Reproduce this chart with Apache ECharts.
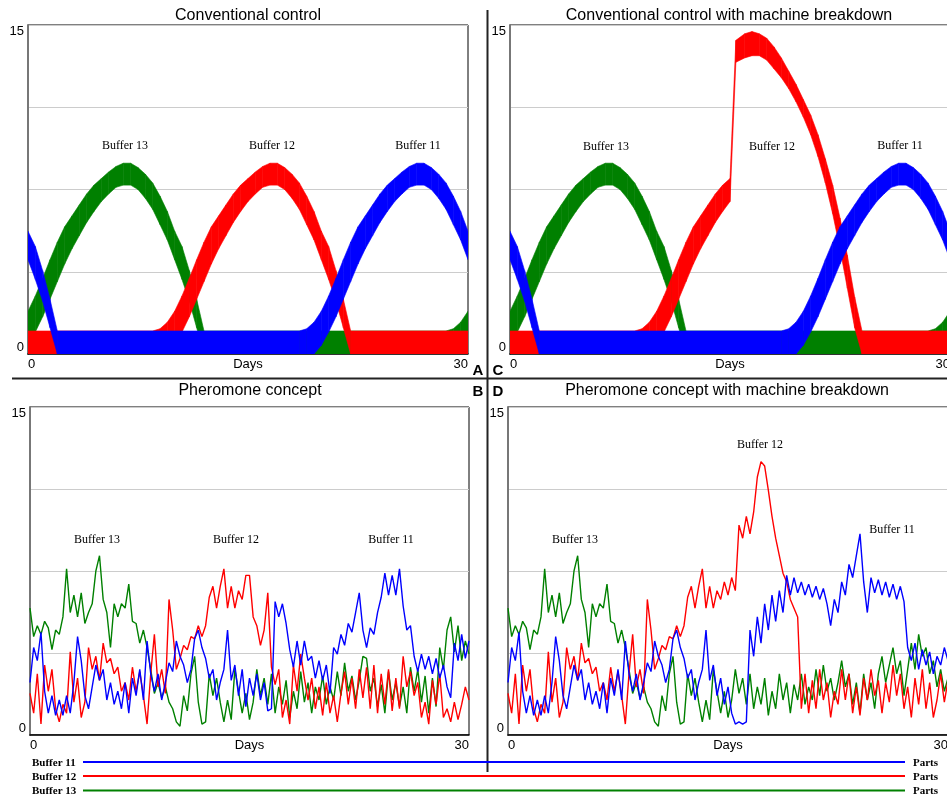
<!DOCTYPE html>
<html><head><meta charset="utf-8">
<script src="https://cdn.jsdelivr.net/npm/echarts@6/dist/echarts.min.js"></script>
<style>html,body{margin:0;padding:0;background:#fff}#c{width:947px;height:796px}</style>
</head><body><div id="c"></div>
<script>
// ---------- tick labels ----------
const xTicks = [0, 30];
const yTicks = [0, 15];

// ---------- Conventional control (A): band envelopes (upper / lower) ----------
const aGreenDays = [0,0.5,1,1.5,2,2.5,3,3.5,4,4.5,5,5.5,6,6.5,7,7.5,8,8.5,9,9.5,10,10.5,11,11.5,12,28.5,29,29.5,30];
const aGreenUp   = [1.95,2.65,3.45,4.3,5.1,5.8,6.3,6.8,7.3,7.7,8.0,8.3,8.55,8.7,8.7,8.5,8.2,7.8,7.2,6.5,5.6,4.9,3.8,2.5,1.05,1.05,1.15,1.45,1.95];
const aGreenLo   = [0.4,1.0,1.7,2.5,3.3,4.1,4.8,5.4,6.0,6.5,6.95,7.3,7.6,7.7,7.7,7.5,7.1,6.6,5.9,5.2,4.3,3.4,2.4,1.2,0,0,0,0,0.4];

const aRedDays = [0,8.5,9,9.5,10,10.5,11,11.5,12,12.5,13,13.5,14,14.5,15,15.5,16,16.5,17,17.5,18,18.5,19,19.5,20,20.5,21,21.5,22,30];
const aRedUp   = [1.05,1.05,1.15,1.45,1.95,2.65,3.45,4.3,5.1,5.8,6.3,6.8,7.3,7.7,8.0,8.3,8.55,8.7,8.7,8.5,8.2,7.8,7.2,6.5,5.6,4.9,3.8,2.5,1.05,1.05];
const aRedLo   = [0,0,0,0,0.4,1.0,1.7,2.5,3.3,4.1,4.8,5.4,6.0,6.5,6.95,7.3,7.6,7.7,7.7,7.5,7.1,6.6,5.9,5.2,4.3,3.4,2.4,1.2,0,0];

const aBlueDays = [0,0.5,1,1.5,2,18.5,19,19.5,20,20.5,21,21.5,22,22.5,23,23.5,24,24.5,25,25.5,26,26.5,27,27.5,28,28.5,29,29.5,30];
const aBlueUp   = [5.6,4.9,3.8,2.5,1.05,1.05,1.15,1.45,1.95,2.65,3.45,4.3,5.1,5.8,6.3,6.8,7.3,7.7,8.0,8.3,8.55,8.7,8.7,8.5,8.2,7.8,7.2,6.5,5.6];
const aBlueLo   = [4.3,3.4,2.4,1.2,0,0,0,0,0.4,1.0,1.7,2.5,3.3,4.1,4.8,5.4,6.0,6.5,6.95,7.3,7.6,7.7,7.7,7.5,7.1,6.6,5.9,5.2,4.3];

// ---------- Conventional control with breakdown (C): Buffer 12 ----------
const cRedDays = [0,8.5,9,9.5,10,10.5,11,11.5,12,12.5,13,13.5,14,14.5,15,15.4,16,16.5,17,17.5,18,18.5,19,19.5,20,20.5,21,21.5,22,22.5,23,23.5,24,30];
const cRedUp   = [1.05,1.05,1.15,1.45,1.95,2.65,3.45,4.3,5.1,5.8,6.3,6.8,7.3,7.7,8.0,14.3,14.6,14.7,14.6,14.4,14.0,13.5,12.9,12.3,11.6,10.9,10.0,8.9,7.7,6.2,4.5,2.6,1.05,1.05];
const cRedLo   = [0,0,0,0,0.4,1.0,1.7,2.5,3.3,4.1,4.8,5.4,6.0,6.5,6.95,13.3,13.5,13.6,13.6,13.4,13.0,12.6,12.1,11.5,10.8,10.0,9.0,7.8,6.4,4.8,3.0,1.2,0,0];

// ---------- Pheromone concept (B): samples every 0.25 day ----------
const STEP = 0.25;
const bGreen = [5.8,4.5,5.0,4.6,5.2,4.9,3.9,4.8,4.6,5.4, 7.6,5.6,6.4,5.4,6.5,5.1,5.6,6.0,7.5,8.2, 6.2,5.6,4.0,6.0,5.4,6.0,5.8,6.9,5.2,5.1, 4.2,4.8,4.0,3.0,1.9,2.4,1.7,2.2,1.5,1.2, 0.6,0.4,1.8,1.1,2.8,3.6,1.5,0.5,0.6,2.8, 1.8,2.6,1.5,0.6,1.6,0.7,3.0,2.0,
  1.0,1.9,0.7,1.5,3.0,1.8,2.6,1.4,2.8,1.0, 2.2,1.4,2.5,0.8,2.0,1.2,2.9,1.5,2.4,1.0, 2.2,1.6,2.7,1.4,2.2,1.6,2.9,1.8,3.3,2.0, 2.7,1.6,2.5,3.6,3.5,2.0,2.6,1.3,2.3,1.0, 2.9,1.6,2.4,1.3,2.2,1.0,3.1,2.0,3.0,1.5, 2.7,1.0,2.6,1.3,4.0,3.0,4.8,5.4,3.8,5.0, 3.4,4.3,3.7];
const bRed = [1.9,1.0,2.8,0.5,3.2,2.0,3.0,1.2,0.6,1.4, 1.0,3.8,1.5,2.6,0.8,1.5,4.0,3.0,3.6,2.5, 4.2,3.3,3.5,2.8,3.1,2.0,2.4,1.6,3.1,2.0, 2.9,1.8,0.5,2.8,4.6,2.2,3.0,1.9,6.2,4.8, 3.0,3.5,4.1,3.9,4.5,4.4,5.0,4.5,5.0,6.3, 6.8,5.8,6.8,7.6,5.8,6.8,5.8,6.6,
  6.2,7.3,7.3,5.4,5.0,4.1,4.8,6.5,3.1,2.3, 3.0,0.8,1.6,0.5,3.2,2.0,3.7,2.6,1.6,2.6, 1.2,2.2,0.9,2.4,1.0,1.8,0.6,1.9,2.9,1.4, 2.6,1.2,3.0,1.7,3.1,1.2,3.2,1.0,2.8,1.4, 3.0,1.1,2.6,1.2,3.6,2.2,2.9,1.8,2.4,0.8, 1.5,0.5,2.5,1.4,2.8,0.8,1.2,0.6,1.5,0.7, 1.4,2.2,1.6];
const bBlue = [2.4,4.0,3.4,4.7,2.0,1.0,1.8,0.9,1.6,0.9, 1.8,1.0,2.4,4.5,3.4,1.8,1.2,2.2,3.2,2.5, 3.0,1.6,2.4,1.4,2.0,1.2,2.4,1.0,2.6,1.8, 3.0,1.6,4.3,2.8,2.0,2.8,1.6,2.4,3.3,2.9, 4.3,3.6,3.2,2.4,3.0,4.4,4.8,4.0,3.5,2.6, 3.0,1.6,2.4,3.0,4.8,2.5,3.2,1.8,
  3.0,1.3,2.6,1.8,2.8,1.6,2.4,1.1,1.2,6.1, 5.4,6.0,5.1,3.9,3.1,4.3,3.2,4.3,3.4,3.6, 2.6,3.4,2.5,3.2,1.9,4.0,3.7,4.6,4.1,5.1, 4.7,5.6,6.5,4.8,4.0,4.9,4.6,5.6,6.3,7.4, 6.4,7.3,6.4,7.6,5.9,4.8,5.0,3.6,2.9,3.7, 3.0,3.6,2.8,3.5,2.6,3.2,2.2,1.7,4.2,3.4, 4.6,3.5,4.3];

// ---------- Pheromone with breakdown (D): identical to B until day 14, then these ----------
const dSplit = 56;
const dGreenTail = [3.0,2.0,1.0,2.0,0.8,1.6,3.0,1.9,2.6,1.4, 2.8,1.2,2.2,1.4,2.6,0.9,2.0,1.2,2.8,1.6, 2.4,1.0,2.3,1.6,2.8,1.4,2.2,1.6,3.0,1.8, 3.2,2.0,2.6,1.6,2.4,3.4,2.2,2.8,1.4,2.4, 1.0,2.8,1.6,2.4,1.2,2.8,3.6,2.4,3.2,4.0, 2.8,3.4,1.8,3.0,4.2,3.0,4.6,3.6,4.0,2.8, 3.4,2.2,3.0,2.0,2.6];
const dRedTail = [5.8,6.6,6.2,7.0,6.4,7.2,6.6,9.6,9.0,10.0, 9.2,10.2,11.8,12.5,12.3,11.2,10.0,9.0,8.2,7.4, 7.0,6.2,5.8,5.4,1.2,2.8,1.0,2.5,1.2,3.0, 1.6,2.4,0.8,2.0,1.4,3.0,1.6,2.8,1.0,2.2, 0.9,2.6,1.6,3.0,1.8,2.5,1.0,2.4,1.5,3.2, 1.8,2.8,1.2,2.2,0.8,2.6,1.4,3.0,1.2,2.4, 0.8,1.6,2.8,1.5,2.5];
const dBlueTail = [3.2,1.8,2.6,1.4,2.2,1.0,0.5,0.6,0.5,0.6, 4.8,3.6,5.4,4.2,6.0,4.8,6.4,5.2,6.6,5.6, 7.3,6.4,7.2,6.5,7.0,6.4,6.9,6.3,6.8,6.2, 6.7,6.0,5.0,6.2,5.6,7.0,6.4,7.8,7.2,8.2, 9.2,7.0,5.6,7.2,6.5,7.1,6.4,7.0,6.3,6.9, 6.2,6.8,6.1,4.0,3.4,4.2,3.0,3.9,3.2,3.8, 2.8,3.6,3.2,4.0,3.4];
const dGreen = bGreen.slice(0, dSplit).concat(dGreenTail);
const dRed = bRed.slice(0, dSplit).concat(dRedTail);
const dBlue = bBlue.slice(0, dSplit).concat(dBlueTail);

// ---------- styles ----------
const SANS = '"Liberation Sans", Arial, sans-serif';
const SERIF = '"Liberation Serif", "Times New Roman", serif';
const C11 = '#0000ff', C12 = '#ff0000', C13 = '#008000';

// band between lower and upper envelope, drawn segment by segment through the axes
function band(idx, days, up, lo, color) {
  const data = [];
  for (let i = 0; i < days.length - 1; i++) data.push([days[i], up[i], lo[i], days[i+1], up[i+1], lo[i+1]]);
  return {type:'custom', xAxisIndex:idx, yAxisIndex:idx, data:data, silent:true, clip:true,
    encode:{x:[0,3], y:[1,2,4,5]},
    renderItem: function (params, api) {
      const p1 = api.coord([api.value(0), api.value(1)]);
      const p2 = api.coord([api.value(3), api.value(4)]);
      const p3 = api.coord([api.value(3), api.value(5)]);
      const p4 = api.coord([api.value(0), api.value(2)]);
      return {type:'polygon', shape:{points:[p1,p2,p3,p4]}, style:{fill:color, stroke:color, lineWidth:0.6}};
    }};
}
function trace(idx, vals, color) {
  return {type:'line', xAxisIndex:idx, yAxisIndex:idx, data: vals.map((v,i)=>[i*STEP, v]),
    symbol:'none', lineStyle:{color:color, width:1.4}, silent:true};
}
const grids = [
  {left:28, top:25, width:440, height:329},
  {left:510, top:25, width:440, height:329},
  {left:30, top:407, width:439, height:328},
  {left:508, top:407, width:440, height:328}
].map(g => Object.assign(g, {show:true, borderColor:'#000', borderWidth:1, backgroundColor:'#fff', containLabel:false, outerBoundsMode:'none'}));

const xAxes = grids.map((g,i)=>({gridIndex:i, type:'value', min:0, max:30, interval:30,
  name:'Days', nameLocation:'middle', nameGap:4, nameMoveOverlap:false,
  nameTextStyle:{fontFamily:SANS, fontSize:13, color:'#000', verticalAlign:'top'},
  axisLine:{show:true, onZero:false, lineStyle:{color:'#000', width:1.5}}, axisTick:{show:false}, splitLine:{show:false},
  axisLabel:{fontFamily:SANS, fontSize:13, color:'#000', margin:4, alignMinLabel:'left', alignMaxLabel:'right',
    formatter: v => xTicks.indexOf(v) >= 0 ? String(v) : ''}}));
const yAxes = grids.map((g,i)=>({gridIndex:i, type:'value', min:0, max:15, interval:3.75,
  axisLine:{show:true, lineStyle:{color:'#777', width:2}}, axisTick:{show:false},
  splitLine:{show:true, lineStyle:{color:'#cccccc', width:1}},
  axisLabel:{fontFamily:SANS, fontSize:13, color:'#000', margin:4, verticalAlignMinLabel:'bottom', verticalAlignMaxLabel:'top',
    formatter: v => yTicks.indexOf(v) >= 0 ? String(v) : ''}}));

const series = [
  band(0, aGreenDays, aGreenUp, aGreenLo, C13),
  band(0, aRedDays, aRedUp, aRedLo, C12),
  band(0, aBlueDays, aBlueUp, aBlueLo, C11),
  band(1, aGreenDays, aGreenUp, aGreenLo, C13),
  band(1, cRedDays, cRedUp, cRedLo, C12),
  band(1, aBlueDays, aBlueUp, aBlueLo, C11),
  trace(2, bGreen, C13), trace(2, bRed, C12), trace(2, bBlue, C11),
  trace(3, dGreen, C13), trace(3, dRed, C12), trace(3, dBlue, C11)
];

function txt(x, y, text, font, align) {
  return {type:'text', x:x, y:y, z:100, style:{text:text, font:font, fill:'#000', align:align||'center', verticalAlign:'middle'}};
}
const F_T = '16px ' + SANS, F_L = 'bold 15px ' + SANS, F_B = '12px ' + SERIF, F_G = 'bold 11px ' + SERIF;
const graphic = [
  txt(248, 16, 'Conventional control', F_T),
  txt(729, 16, 'Conventional control with machine breakdown', F_T),
  txt(250, 391, 'Pheromone concept', F_T),
  txt(727, 391, 'Pheromone concept with machine breakdown', F_T),
  txt(478, 371, 'A', F_L), txt(498, 371, 'C', F_L), txt(478, 392, 'B', F_L), txt(498, 392, 'D', F_L),
  txt(125, 146, 'Buffer 13', F_B), txt(272, 146, 'Buffer 12', F_B), txt(418, 146, 'Buffer 11', F_B),
  txt(606, 147, 'Buffer 13', F_B), txt(772, 147, 'Buffer 12', F_B), txt(900, 146, 'Buffer 11', F_B),
  txt(97, 540, 'Buffer 13', F_B), txt(236, 540, 'Buffer 12', F_B), txt(391, 540, 'Buffer 11', F_B),
  txt(575, 540, 'Buffer 13', F_B), txt(760, 445, 'Buffer 12', F_B), txt(892, 530, 'Buffer 11', F_B),
  {type:'line', z:100, shape:{x1:487.5, y1:10, x2:487.5, y2:772}, style:{stroke:'#222', lineWidth:2}},
  {type:'line', z:100, shape:{x1:12, y1:378.5, x2:947, y2:378.5}, style:{stroke:'#222', lineWidth:2}},
  txt(32, 763, 'Buffer 11', F_G, 'left'), txt(32, 777, 'Buffer 12', F_G, 'left'), txt(32, 791, 'Buffer 13', F_G, 'left'),
  {type:'line', z:100, shape:{x1:83, y1:762, x2:905, y2:762}, style:{stroke:C11, lineWidth:2}},
  {type:'line', z:100, shape:{x1:83, y1:776, x2:905, y2:776}, style:{stroke:C12, lineWidth:2}},
  {type:'line', z:100, shape:{x1:83, y1:790.5, x2:905, y2:790.5}, style:{stroke:C13, lineWidth:2}},
  txt(913, 763, 'Parts', F_G, 'left'), txt(913, 777, 'Parts', F_G, 'left'), txt(913, 791, 'Parts', F_G, 'left')
];

const chart = echarts.init(document.getElementById('c'), null, {renderer:'canvas'});
chart.setOption({
  animation:false, backgroundColor:'#fff',
  grid: grids, xAxis: xAxes, yAxis: yAxes, series: series, graphic: graphic
});
</script></body></html>
